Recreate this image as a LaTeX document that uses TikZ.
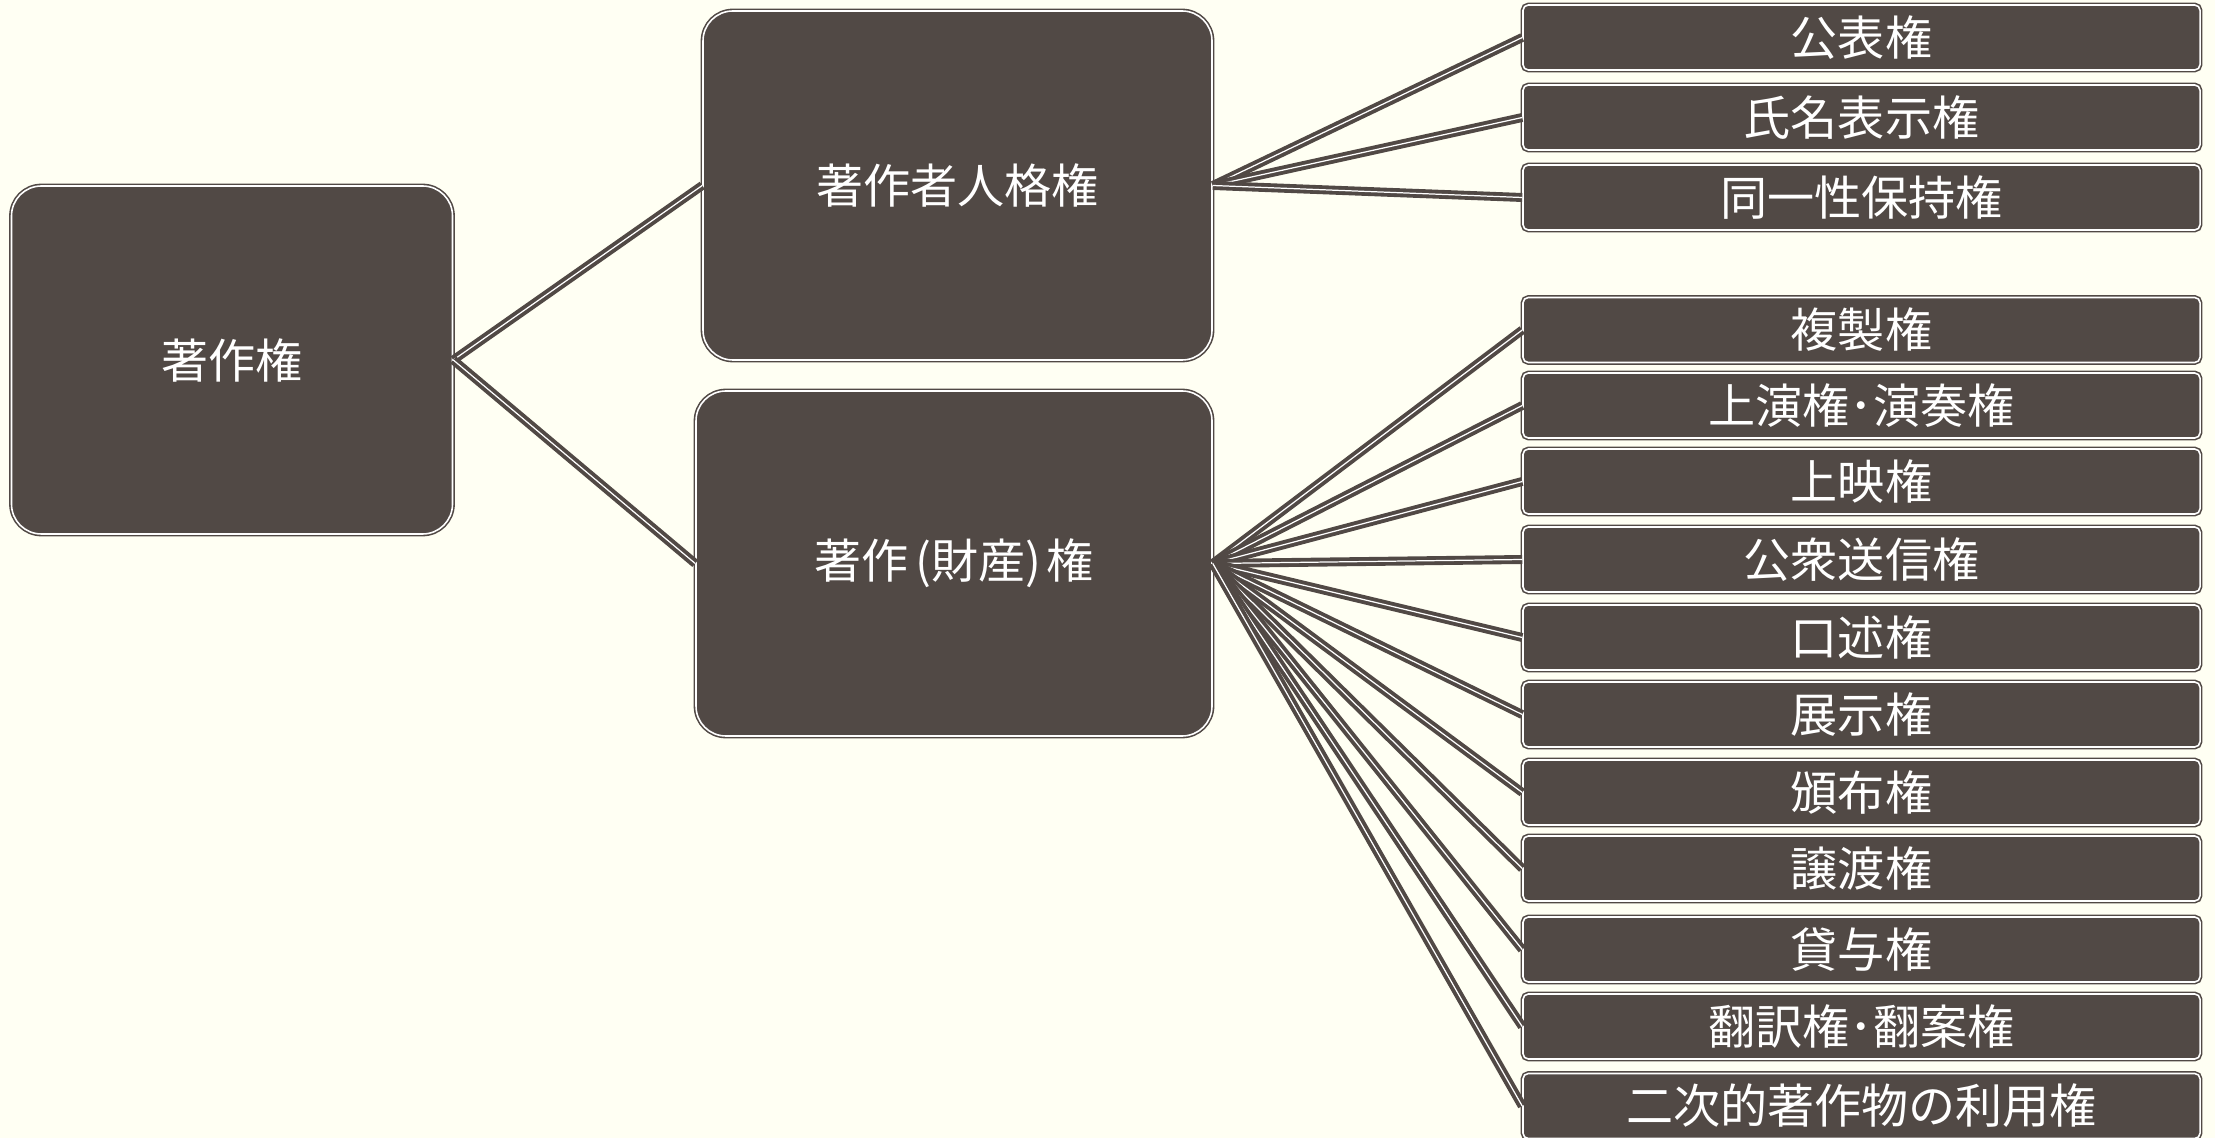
\documentclass[tikz,border=0pt]{standalone}
\usepackage{fontspec}
\setmainfont{Noto Sans CJK JP}
\usepackage{xcolor}
\usetikzlibrary{positioning}

\definecolor{boxbrown}{RGB}{81,73,69}
\definecolor{paper}{RGB}{255,255,243}

\tikzset{
  bigbox/.style={draw=boxbrown, double=white, double distance=0.45pt,
    line width=0.45pt, fill=boxbrown, rounded corners=8.5pt, text=white,
    inner sep=0pt, font=\fontsize{13.4pt}{16pt}\selectfont},
  rightbox/.style={bigbox, rounded corners=1.5pt, minimum width=6.77cm,
    minimum height=0.65cm},
  link/.style={draw=boxbrown, double=white, double distance=0.35pt,
    line width=1.1pt}
}

\begin{document}
\begin{tikzpicture}

        \fill[paper] (0,0) rectangle (22.15,-11.38);
        \useasboundingbox (0,0) rectangle (22.15,-11.38);

        % left and middle
        \node[bigbox, minimum width=4.41cm, minimum height=3.48cm] (chosakuken)
        at (2.32,-3.60) {著作権};
        \node[bigbox, minimum width=5.09cm, minimum height=3.49cm] (jinkaku)
        at (9.575,-1.855) {著作者人格権};
        \node[bigbox, minimum width=5.16cm, minimum height=3.45cm] (zaisan)
        at (9.54,-5.635) {著作\kern0.15em(財産)\kern0.1em権};

        % right column
        \node[rightbox] (kohyo) at (18.615,-0.375) {公表権};
        \node[rightbox] (shimei) at (18.615,-1.175) {氏名表示権};
        \node[rightbox] (doitsu) at (18.615,-1.975) {同一性保持権};

        \node[rightbox] (fukusei) at (18.615,-3.30) {複製権};
        \node[rightbox] (joen) at (18.615,-4.055) {上演権･演奏権};
        \node[rightbox] (joei) at (18.615,-4.815) {上映権};
        \node[rightbox] (koshu) at (18.615,-5.595) {公衆送信権};
        \node[rightbox] (kojutsu) at (18.615,-6.375) {口述権};
        \node[rightbox] (tenji) at (18.615,-7.145) {展示権};
        \node[rightbox] (hanpu) at (18.615,-7.925) {頒布権};
        \node[rightbox] (joto) at (18.615,-8.685) {譲渡権};
        \node[rightbox] (taiyo) at (18.615,-9.495) {貸与権};
        \node[rightbox] (honyaku) at (18.615,-10.265) {翻訳権･翻案権};
        \node[rightbox] (niji) at (18.615,-11.06) {二次的著作物の利用権};

        % connectors
        \draw[link] (chosakuken.east) -- (jinkaku.west);
        \draw[link] (chosakuken.east) -- (zaisan.west);
        \foreach \b in {kohyo,shimei,doitsu}
            \draw[link] (jinkaku.east) -- (\b.west);
        \foreach \b in {fukusei,joen,joei,koshu,kojutsu,tenji,hanpu,joto,
            taiyo,honyaku,niji}
            \draw[link] (zaisan.east) -- (\b.west);

\end{tikzpicture}
\end{document}
